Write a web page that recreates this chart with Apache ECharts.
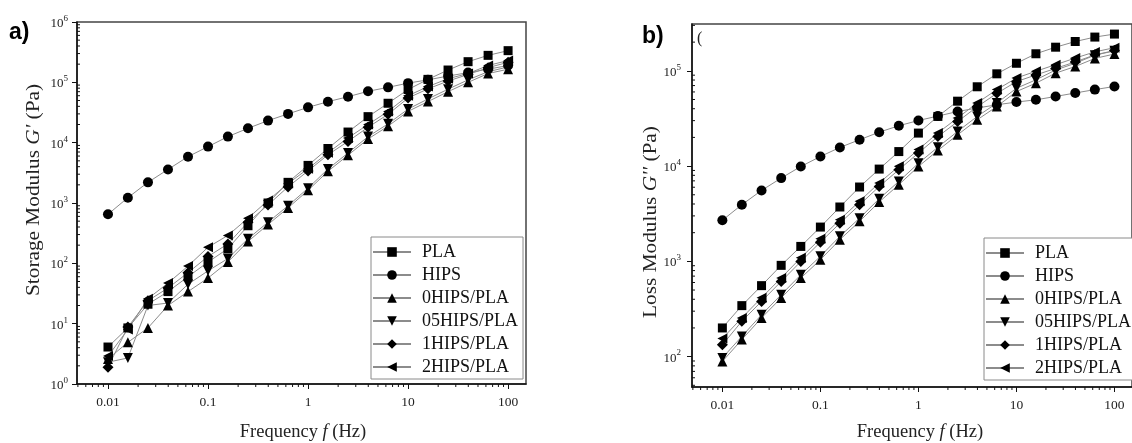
<!DOCTYPE html>
<html><head><meta charset="utf-8">
<script src="https://cdn.jsdelivr.net/npm/echarts@6/dist/echarts.min.js"></script>
<style>html,body{margin:0;padding:0;background:#fff}#c{width:1132px;height:443px}</style>
</head><body><div id="c"></div>
<script>
// ---------- data ----------
const freq = [0.01, 0.0158, 0.0251, 0.0398, 0.0631, 0.1, 0.158, 0.251, 0.398, 0.631, 1, 1.58, 2.51, 3.98, 6.31, 10, 15.8, 25.1, 39.8, 63.1, 100];
const seriesNames = ['PLA', 'HIPS', '0HIPS/PLA', '05HIPS/PLA', '1HIPS/PLA', '2HIPS/PLA'];

// a) Storage modulus G' (Pa)
const storagePLA   = [4.1, 8.5, 21, 34, 60, 105, 175, 420, 1000, 2200, 4200, 8000, 15000, 27000, 45000, 76000, 112000, 160000, 220000, 280000, 335000];
const storageHIPS  = [650, 1225, 2200, 3600, 5860, 8600, 12600, 17300, 23200, 30000, 38500, 47800, 57800, 71000, 82600, 97000, 110000, 127000, 145000, 165000, 190000];
const storage0HIPS = [2.6, 4.9, 8.5, 20, 34, 57, 105, 230, 440, 830, 1620, 3350, 6200, 11500, 18800, 33000, 48000, 70000, 100000, 140000, 165000];
const storage05HIPS= [2.3, 2.7, 20, 22, 45, 75, 120, 255, 480, 900, 1760, 3650, 6750, 12600, 20500, 36000, 53000, 77000, 110000, 150000, 180000];
const storage1HIPS = [1.9, 8.8, 24, 39, 70, 130, 210, 480, 930, 1850, 3400, 6300, 10500, 18000, 29500, 55000, 78000, 105000, 135000, 175000, 215000];
const storage2HIPS = [2.9, 8.0, 26, 47, 90, 185, 290, 560, 1100, 2100, 3700, 6800, 12000, 20000, 33000, 60000, 85000, 115000, 140000, 190000, 230000];

// b) Loss modulus G'' (Pa)
const lossPLA   = [200, 343, 556, 908, 1435, 2290, 3720, 6030, 9300, 14200, 22200, 33200, 48000, 68000, 93000, 120000, 151000, 177000, 203000, 226000, 243000];
const lossHIPS  = [2700, 3930, 5550, 7480, 9900, 12600, 15700, 18900, 22700, 26500, 30100, 33500, 37400, 40700, 44000, 47000, 49600, 53800, 58500, 63500, 68500];
const loss0HIPS = [89, 151, 255, 413, 668, 1040, 1690, 2630, 4200, 6380, 9900, 14600, 21300, 30600, 42200, 60600, 74200, 94500, 111000, 135000, 150000];
const loss05HIPS= [97, 163, 275, 447, 722, 1130, 1830, 2840, 4540, 6900, 10700, 15800, 23100, 33200, 45800, 65600, 80400, 102000, 120000, 146000, 162000];
const loss1HIPS = [133, 235, 380, 615, 995, 1590, 2510, 3920, 6100, 9150, 13700, 20400, 29300, 42000, 58000, 77000, 90500, 106000, 124000, 147000, 163000];
const loss2HIPS = [155, 255, 415, 670, 1090, 1730, 2740, 4280, 6650, 9950, 14900, 22300, 32000, 46000, 63500, 84000, 99000, 116000, 136000, 158000, 175000];

// axis ranges and tick labels
const xRange = [0.0049, 151];
const yRangeA = [1, 1000000];
const yRangeB = [48, 310000];
const xTickExps = [-2, -1, 0, 1, 2];
const xTickLabels = ['0.01', '0.1', '1', '10', '100'];
const minorMantissas = [2, 3, 4, 5, 6, 7, 8, 9];
const xMinorDecades = [0.001, 0.01, 0.1, 1, 10, 100];
const yMinorDecadesA = [1, 10, 100, 1000, 10000, 100000];
const yMinorDecadesB = [10, 100, 1000, 10000, 100000];

// ---------- styling ----------
const symbols = ['rect', 'circle', 'triangle', 'triangle', 'diamond', 'triangle'];
const symbolRot = [0, 0, 0, 180, 0, 90];
const symbolSizes = [9, 10, 10, 10, 11, 10];
const serif = 'Liberation Serif';

function minors(decades, range) {
  const out = [];
  decades.forEach(d => minorMantissas.forEach(m => {
    const v = +(m * d).toPrecision(6);
    if (v > range[0] && v < range[1]) out.push(v);
  }));
  return out;
}
function isPow(v) { const e = Math.log10(v); return Math.abs(e - Math.round(e)) < 1e-6; }

function makeSeries(groups, gi) {
  return seriesNames.map((n, i) => ({
    name: n, type: 'line', xAxisIndex: gi, yAxisIndex: gi,
    data: freq.map((f, k) => [f, groups[i][k]]),
    symbol: symbols[i], symbolSize: symbolSizes[i], symbolRotate: symbolRot[i],
    showAllSymbol: true,
    lineStyle: { color: '#8c8c8c', width: 1 },
    itemStyle: { color: '#000' },
    emphasis: { disabled: true },
    z: 3
  }));
}

function tickSeries(gi, axis, values, fixed, len) {
  return {
    type: 'custom', xAxisIndex: gi, yAxisIndex: gi, silent: true, clip: false, z: 6,
    data: values.map(v => axis === 'x' ? [v, fixed] : [fixed, v]),
    renderItem: (params, api) => {
      const p = api.coord([api.value(0), api.value(1)]);
      const shape = axis === 'x'
        ? { x1: p[0], y1: p[1], x2: p[0], y2: p[1] + len }
        : { x1: p[0], y1: p[1], x2: p[0] + len, y2: p[1] };
      return { type: 'line', shape, style: { stroke: '#111', lineWidth: 1 } };
    }
  };
}

const xAxisBase = (gi) => ({
  type: 'log', gridIndex: gi, min: xRange[0], max: xRange[1],
  axisLine: { show: true, lineStyle: { color: '#111', width: 1.5 } },
  axisTick: { show: true, inside: false, length: 5, lineStyle: { color: '#111' } },
  splitLine: { show: false }, minorTick: { show: false },
  axisLabel: {
    show: true, margin: 11, showMinLabel: false, showMaxLabel: false,
    fontFamily: serif, fontSize: 13.5, color: '#222',
    formatter: v => { if (!isPow(v)) return ''; const i = xTickExps.indexOf(Math.round(Math.log10(v))); return i < 0 ? '' : xTickLabels[i]; }
  }
});
const yAxisBase = (gi, range, margin) => ({
  type: 'log', gridIndex: gi, min: range[0], max: range[1],
  axisLine: { show: true, lineStyle: { color: '#111', width: 1.5 } },
  axisTick: { show: true, inside: false, length: 5, lineStyle: { color: '#111' } },
  splitLine: { show: false }, minorTick: { show: false },
  axisLabel: {
    show: true, margin: margin, showMinLabel: isPow(range[0]), showMaxLabel: isPow(range[1]),
    formatter: v => isPow(v) ? '{b|10}{s|' + Math.round(Math.log10(v)) + '}' : '',
    rich: {
      b: { fontFamily: serif, fontSize: 13, color: '#222', verticalAlign: 'bottom' },
      s: { fontFamily: serif, fontSize: 9, color: '#222', verticalAlign: 'bottom', padding: [0, 0, 7, 0] }
    }
  }
});

const legendBase = (left, top, padding) => ({
  orient: 'vertical', left, top, padding,
  data: seriesNames, itemWidth: 38, itemHeight: 12, itemGap: 5,
  borderColor: '#8a8a8a', borderWidth: 1, backgroundColor: '#fff',
  selectedMode: false,
  textStyle: { fontFamily: serif, fontSize: 18, color: '#111', lineHeight: 18, padding: [0, 0, 0, 6] }
});

const storageGroups = [storagePLA, storageHIPS, storage0HIPS, storage05HIPS, storage1HIPS, storage2HIPS];
const lossGroups = [lossPLA, lossHIPS, loss0HIPS, loss05HIPS, loss1HIPS, loss2HIPS];

const titleRichY = { i: { fontFamily: serif, fontSize: 19, fontStyle: 'italic', fill: '#222' } };
const titleRichX = { i: { fontFamily: serif, fontSize: 18.5, fontStyle: 'italic', fill: '#222' } };

const option = {
  animation: false,
  backgroundColor: '#fff',
  grid: [
    { left: 77, top: 22, right: 606, bottom: 59, show: true, borderColor: '#444', borderWidth: 1.5, containLabel: false },
    { left: 692, top: 24, right: -9, bottom: 56, show: true, borderColor: '#444', borderWidth: 1.5, containLabel: false }
  ],
  xAxis: [xAxisBase(0), xAxisBase(1)],
  yAxis: [yAxisBase(0, yRangeA, 9), yAxisBase(1, yRangeB, 11)],
  legend: [legendBase(371, 237, [6, 5, 3, 1]), legendBase(984, 238, [6, 40, 3, 1])],
  series: [
    ...makeSeries(storageGroups, 0),
    ...makeSeries(lossGroups, 1),
    tickSeries(0, 'x', minors(xMinorDecades, xRange), yRangeA[0], 3),
    tickSeries(1, 'x', minors(xMinorDecades, xRange), yRangeB[0], 3),
    tickSeries(0, 'y', minors(yMinorDecadesA, yRangeA), xRange[0], 3),
    tickSeries(1, 'y', minors(yMinorDecadesB, yRangeB), xRange[0], 3)
  ],
  graphic: [
    { type: 'text', left: 9, top: 21, style: { text: 'a)', font: 'bold 23px "Liberation Sans"', fill: '#000' } },
    { type: 'text', left: 642, top: 25, style: { text: 'b)', font: 'bold 23px "Liberation Sans"', fill: '#000' } },
    { type: 'text', x: 697, y: 31, style: { text: '(', font: '16px "Liberation Serif"', fill: '#222' } },
    { type: 'text', x: 34, y: 190, rotation: Math.PI / 2, scaleX: 1.12,
      style: { text: "Storage Modulus {i|G'} (Pa)", font: '19px "Liberation Serif"', fill: '#222', align: 'center', verticalAlign: 'middle', rich: titleRichY } },
    { type: 'text', x: 651, y: 222, rotation: Math.PI / 2, scaleX: 1.12,
      style: { text: "Loss Modulus {i|G''} (Pa)", font: '19px "Liberation Serif"', fill: '#222', align: 'center', verticalAlign: 'middle', rich: titleRichY } },
    { type: 'text', x: 303, y: 432,
      style: { text: 'Frequency {i|f} (Hz)', font: '18.5px "Liberation Serif"', fill: '#222', align: 'center', verticalAlign: 'middle', rich: titleRichX } },
    { type: 'text', x: 920, y: 432,
      style: { text: 'Frequency {i|f} (Hz)', font: '18.5px "Liberation Serif"', fill: '#222', align: 'center', verticalAlign: 'middle', rich: titleRichX } }
  ]
};

const chart = echarts.init(document.getElementById('c'), null, { renderer: 'canvas' });
chart.setOption(option);
</script>
</body></html>
